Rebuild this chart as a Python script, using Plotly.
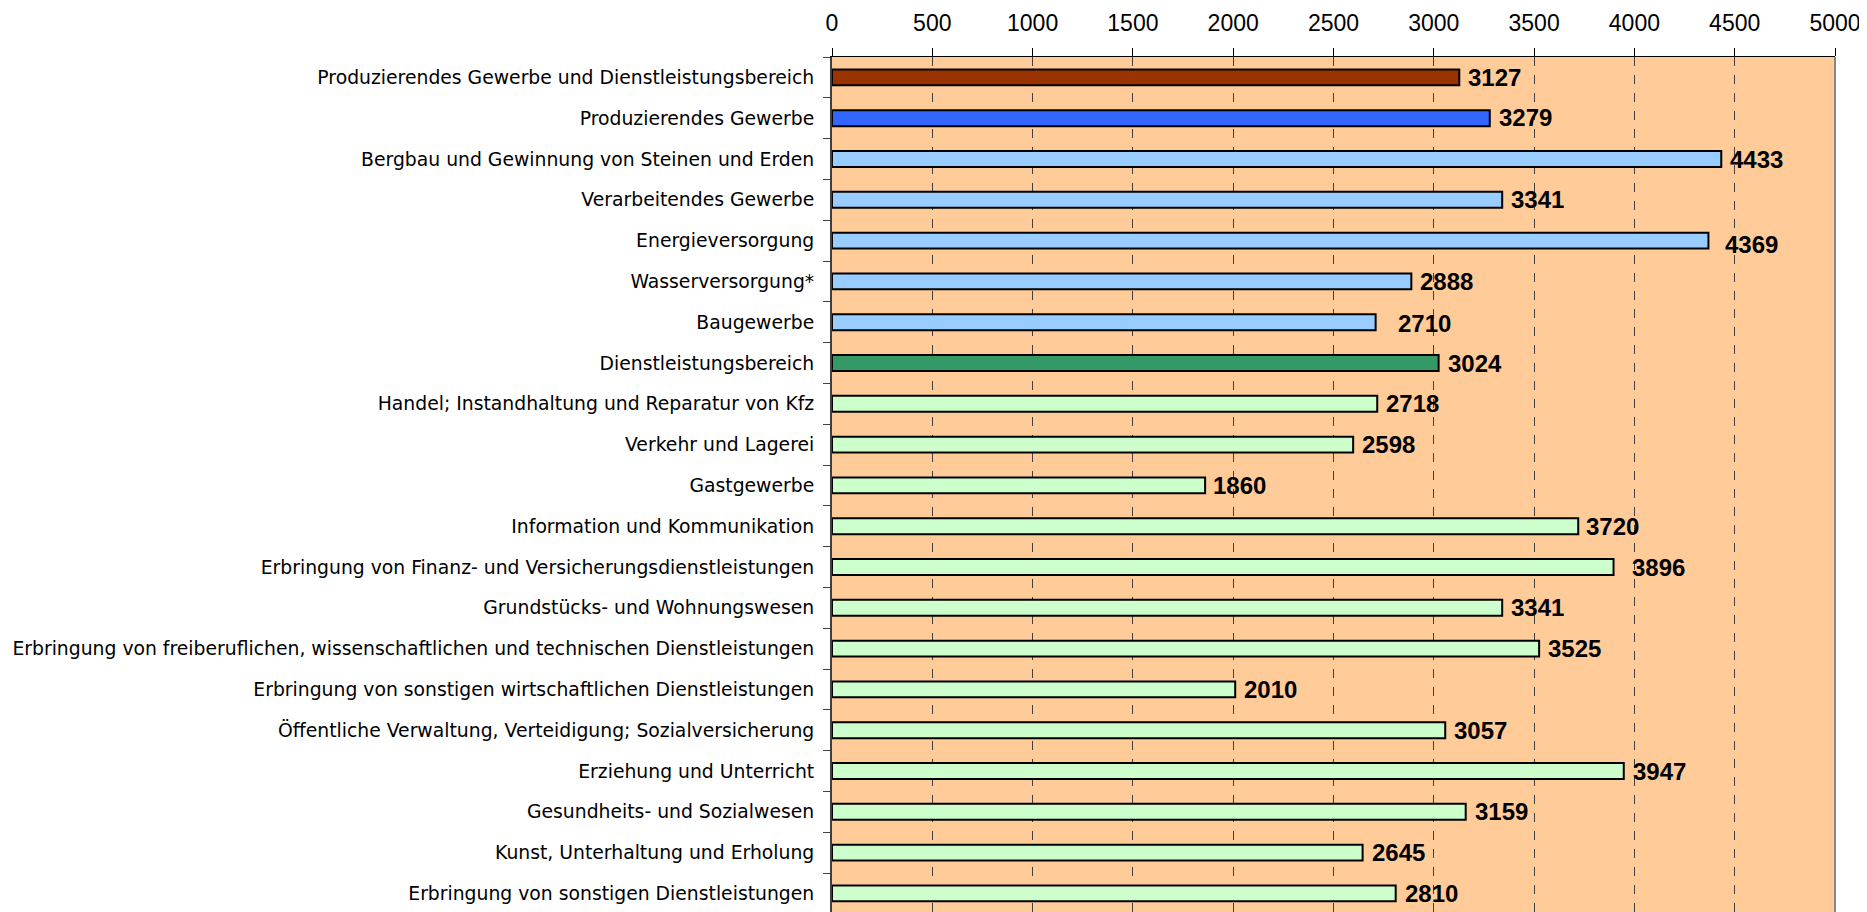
import plotly.graph_objects as go

categories = [
    "Produzierendes Gewerbe und Dienstleistungsbereich",
    "Produzierendes Gewerbe",
    "Bergbau und Gewinnung von Steinen und Erden",
    "Verarbeitendes Gewerbe",
    "Energieversorgung",
    "Wasserversorgung*",
    "Baugewerbe",
    "Dienstleistungsbereich",
    "Handel; Instandhaltung und Reparatur von Kfz",
    "Verkehr und Lagerei",
    "Gastgewerbe",
    "Information und Kommunikation",
    "Erbringung von Finanz- und Versicherungsdienstleistungen",
    "Grundstücks- und Wohnungswesen",
    "Erbringung von freiberuflichen, wissenschaftlichen und technischen Dienstleistungen",
    "Erbringung von sonstigen wirtschaftlichen Dienstleistungen",
    "Öffentliche Verwaltung, Verteidigung; Sozialversicherung",
    "Erziehung und Unterricht",
    "Gesundheits- und Sozialwesen",
    "Kunst, Unterhaltung und Erholung",
    "Erbringung von sonstigen Dienstleistungen",
]
values = [3127, 3279, 4433, 3341, 4369, 2888, 2710, 3024, 2718, 2598, 1860,
          3720, 3896, 3341, 3525, 2010, 3057, 3947, 3159, 2645, 2810]
groups = ["total", "prod", "prod_sub", "prod_sub", "prod_sub", "prod_sub", "prod_sub",
          "dienst", "dienst_sub", "dienst_sub", "dienst_sub", "dienst_sub", "dienst_sub",
          "dienst_sub", "dienst_sub", "dienst_sub", "dienst_sub", "dienst_sub",
          "dienst_sub", "dienst_sub", "dienst_sub"]
x_ticks = [0, 500, 1000, 1500, 2000, 2500, 3000, 3500, 4000, 4500, 5000]

# styles
group_colors = {"total": "#993300", "prod": "#3366FF", "prod_sub": "#99CCFF",
                "dienst": "#339966", "dienst_sub": "#CCFFCC"}
bar_colors = [group_colors[g] for g in groups]
label_xshift = [7, 7, 7, 7, 15, 7, 20, 7, 7, 7, 6, 6, 16, 7, 7, 7, 7, 7, 7, 7, 7]
label_yshift = [0, 1, 0, 0, -4, 0, -1, 0, 0, 0, 0, 0, 0, 0, 0, 0, 0, 0, 0, 0, 0]

FONT = "Liberation Sans, Arial, sans-serif"
CAT_FONT = "DejaVu Sans, Liberation Sans, sans-serif"

fig = go.Figure()
fig.add_trace(go.Bar(
    y=categories, x=values, orientation="h",
    width=0.39,
    marker=dict(color=bar_colors, line=dict(color="#000000", width=2)),
    hoverinfo="x+y",
))

for c, v, dx, dy in zip(categories, values, label_xshift, label_yshift):
    fig.add_annotation(x=v, y=c, text=str(v), showarrow=False,
                       xanchor="left", yanchor="middle", xshift=dx, yshift=dy,
                       font=dict(family=FONT, size=24, color="#000000", weight="bold"))

fig.add_shape(type="line", xref="paper", yref="paper", x0=1, x1=1, y0=0, y1=1,
              line=dict(color="#888888", width=2))

fig.update_layout(
    width=1859, height=904,
    margin=dict(l=824, r=32, t=49, b=0, pad=0),
    paper_bgcolor="#FFFFFF", plot_bgcolor="#FFCC99",
    showlegend=False,
    font=dict(family=FONT, color="#000000"),
    xaxis=dict(
        side="top", range=[0, 5000], tickvals=x_ticks,
        ticktext=[str(t) for t in x_ticks],
        showgrid=True, gridcolor="#404040", gridwidth=1, griddash="dash",
        zeroline=False, showline=True, linecolor="#000000", linewidth=1,
        ticks="outside", ticklen=8, tickcolor="#000000", tickwidth=1,
        tickfont=dict(family=FONT, size=23, color="#000000"),
        ticklabelstandoff=8, fixedrange=True,
    ),
    yaxis=dict(
        type="category", categoryorder="array", categoryarray=categories,
        range=[20.456, -0.5],
        showgrid=False, zeroline=False, showline=True, linecolor="#404040", linewidth=2,
        ticks="outside", ticklen=7, tickcolor="#404040", tickwidth=1,
        tickson="boundaries",
        tickfont=dict(family=CAT_FONT, size=18.8, color="#000000"),
        ticklabelstandoff=12, fixedrange=True,
    ),
)

fig.write_html("out.html")
